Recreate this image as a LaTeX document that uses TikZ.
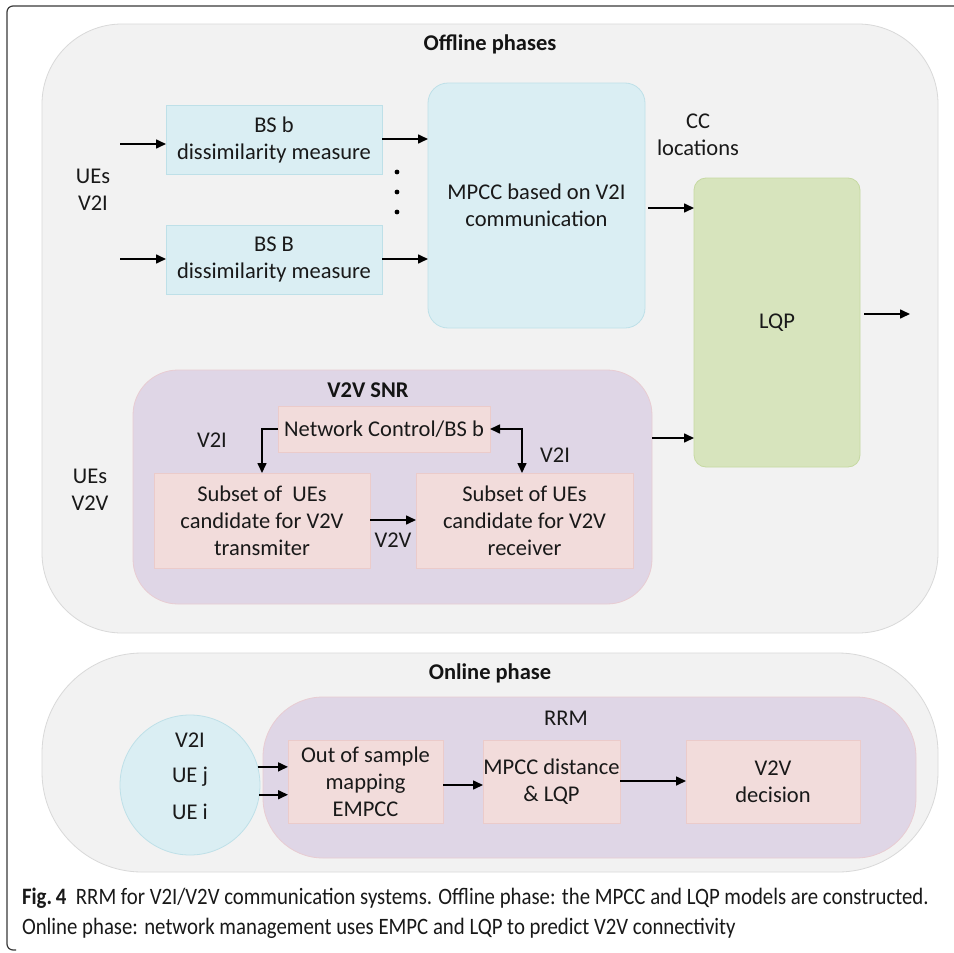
\documentclass[tikz,border=0pt]{standalone}
\usepackage{fontspec}
\setmainfont{Carlito}
\newfontfamily\capfont{Carlito}[FakeStretch=0.885]
\usetikzlibrary{arrows.meta}

\definecolor{phasefill}{HTML}{F2F2F2}
\definecolor{phaseline}{HTML}{D9D9D9}
\definecolor{bluefill}{HTML}{DAEEF3}
\definecolor{blueline}{HTML}{BEE0E8}
\definecolor{greenfill}{HTML}{D7E4BD}
\definecolor{greenline}{HTML}{C6D9A2}
\definecolor{lavfill}{HTML}{DFD6E6}
\definecolor{lavline}{HTML}{E8CCD2}
\definecolor{pinkfill}{HTML}{F2DCDB}
\definecolor{pinkline}{HTML}{EBCBCA}
\definecolor{framecol}{HTML}{3A3A3A}

\begin{document}
\begin{tikzpicture}[x=1pt,y=-1pt,
  every node/.style={inner sep=0pt, outer sep=0pt},
  txt/.style={font=\fontsize{22.5}{27}\selectfont, align=center, text=black!90},
  ttl/.style={font=\fontsize{22.5}{27}\selectfont\bfseries, text=black!92},
  phase/.style={draw=phaseline, fill=phasefill, line width=0.8pt},
  bluebox/.style={txt, draw=blueline, fill=bluefill, line width=0.8pt},
  greenbox/.style={txt, draw=greenline, fill=greenfill, line width=0.8pt, rounded corners=12pt},
  lavbox/.style={draw=lavline, fill=lavfill, line width=0.8pt},
  pinkbox/.style={txt, draw=pinkline, fill=pinkfill, line width=0.8pt},
  arr/.style={-{Triangle[length=10pt,width=9pt]}, line width=1.6pt, black},
  dbl/.style={{Triangle[length=10pt,width=9pt]}-{Triangle[length=10pt,width=9pt]}, line width=1.6pt, black},
  capt/.style={font=\capfont\fontsize{23.5}{30}\selectfont, text=black!90, anchor=base west}
]
\useasboundingbox (0,0) rectangle (954,953);
\fill[white] (0,0) rectangle (954,953);

% caption frame
\draw[framecol, line width=1.2pt, rounded corners=6pt] (954,6) -- (7,6) -- (7,950) -- (16,950);

% ---------------- offline phases ----------------
\node[phase, rounded corners=80pt, minimum width=896pt, minimum height=609pt] (off) at (490,328.5) {};
\node[ttl] (offt) at (490,44) {Offline phases};

\node[bluebox, minimum width=216pt, minimum height=69pt] (bsb) at (274,139.5) {BS b\\dissimilarity measure};
\node[bluebox, minimum width=216pt, minimum height=69pt] (bsB) at (274,259.5) {BS B\\dissimilarity measure};
\node[bluebox, rounded corners=20pt, minimum width=217pt, minimum height=245pt] (mpcc) at (536.5,205.5) {MPCC based on V2I\\communication};
\node[greenbox, minimum width=166pt, minimum height=289pt] (lqp) at (777,322.5) {LQP};

\node[txt] (uev2i) at (93,190) {UEs\\V2I};
\node[txt] (ccloc) at (698,135) {CC\\locations};

\foreach \yy [count=\k] in {172,192,212}
  \fill (397,\yy) circle (2.4pt) coordinate (dot\k);

\coordinate (in1) at (120,144);
\coordinate (in2) at (120,259);
\draw[arr] (in1) -- (in1 -| bsb.west);
\draw[arr] (in2) -- (in2 -| bsB.west);
\draw[arr] ([yshift=0.5pt]bsb.east) -- ([yshift=0.5pt]bsb.east -| mpcc.west);
\draw[arr] ([yshift=0.5pt]bsB.east) -- ([yshift=0.5pt]bsB.east -| mpcc.west);
\draw[arr] ([xshift=3pt,yshift=-2.5pt]mpcc.east) -- ([yshift=-2.5pt]mpcc.east -| lqp.west);

\coordinate (lqpout) at (910,314);
\draw[arr] ([xshift=4pt]lqp.east |- lqpout) -- (lqpout);

% V2V SNR block
\node[lavbox, rounded corners=45pt, minimum width=519pt, minimum height=234pt] (snr) at (392.5,487) {};
\node[ttl] (snrt) at (368,390) {V2V SNR};
\node[pinkbox, minimum width=212pt, minimum height=46pt] (nc) at (384,429) {Network Control/BS b};
\node[pinkbox, minimum width=216pt, minimum height=95pt] (tx) at (262,520.5) {Subset of\ \ UEs\\candidate for V2V\\transmiter};
\node[pinkbox, minimum width=217pt, minimum height=95pt] (rx) at (524.5,520.5) {Subset of UEs\\candidate for V2V\\receiver};

\draw[arr] (nc.west) -| ([xshift=108pt]tx.north west);
\draw[dbl] (nc.east) -| ([xshift=106pt]rx.north west);
\draw[arr] ([yshift=0.5pt]tx.east) -- ([yshift=0.5pt]rx.west);

\node[txt] (l1) at (212,440) {V2I};
\node[txt] (l2) at (555,455) {V2I};
\node[txt] (l3) at (393,540) {V2V};
\node[txt] (uev2v) at (90,490) {UEs\\V2V};

\draw[arr] ([yshift=49pt]snr.east) -- ([yshift=49pt]snr.east -| lqp.west);

% ---------------- online phase ----------------
\node[phase, rounded corners=100pt, minimum width=896pt, minimum height=219pt] (on) at (490,762.5) {};
\node[ttl] (ont) at (490,673) {Online phase};
\node[lavbox, rounded corners=60pt, minimum width=653pt, minimum height=161pt] (rrm) at (589.5,777.5) {};
\node[txt] (rrmt) at (566,718) {RRM};

\node[circle, draw=blueline, fill=bluefill, line width=0.8pt, minimum size=140pt] (ue) at (190,785) {};
\node[txt] (uea) at (190,740) {V2I};
\node[txt] (ueb) at (190,777) {UE j};
\node[txt] (uec) at (190,812) {UE i};

\node[pinkbox, minimum width=155pt, minimum height=83pt] (oos) at (365.5,781.5) {Out of sample\\mapping\\EMPCC};
\node[pinkbox, minimum width=137pt, minimum height=83pt] (mpd) at (551.5,781.5) {MPCC distance\\\& LQP};
\node[pinkbox, minimum width=174pt, minimum height=83pt] (dec) at (773,781.5) {V2V\\decision};

\draw[arr] (ue.15) -- (ue.15 -| oos.west);
\draw[arr] (ue.-8) -- (ue.-8 -| oos.west);
\draw[arr] ([yshift=-3.5pt]oos.east) -- ([yshift=-3.5pt]oos.east -| mpd.west);
\draw[arr] ([yshift=0.5pt]mpd.east) -- ([yshift=0.5pt]mpd.east -| dec.west);

% ---------------- caption ----------------
\node[capt] (cap1) at (22,904) {\textbf{Fig.\,4}\ \ RRM for V2I/V2V communication systems. Offline phase: the MPCC and LQP models are constructed.};
\node[capt] (cap2) at (22,934) {Online phase: network management uses EMPC and LQP to predict V2V connectivity};
\end{tikzpicture}
\end{document}
